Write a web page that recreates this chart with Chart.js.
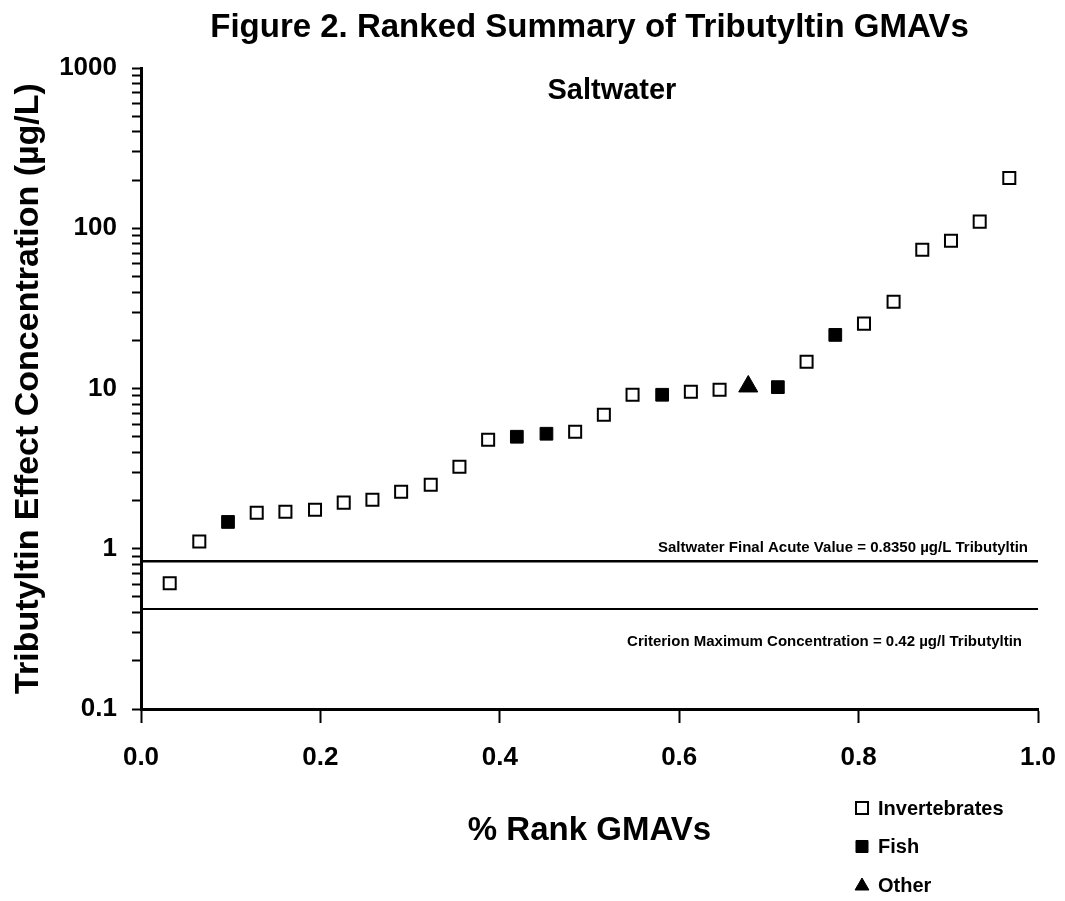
<!DOCTYPE html>
<html>
<head>
<meta charset="utf-8">
<title>Ranked Summary of Tributyltin GMAVs</title>
<script src="https://cdn.jsdelivr.net/npm/chart.js@4.4.1/dist/chart.umd.min.js"></script>
<style>
  html, body { margin: 0; padding: 0; background: #fff; }
  #wrap { width: 1065px; height: 901px; }
</style>
</head>
<body>
<div id="wrap"><canvas id="gmavChart" width="1065" height="901"></canvas></div>
<script>
// percent rank of each genus (i / (N + 1))
const rank = [0.032, 0.065, 0.097, 0.129, 0.161, 0.194, 0.226, 0.258, 0.290, 0.323,
              0.355, 0.387, 0.419, 0.452, 0.484, 0.516, 0.548, 0.581, 0.613, 0.645,
              0.677, 0.710, 0.742, 0.774, 0.806, 0.839, 0.871, 0.903, 0.935, 0.968];
// GMAV, ug/L
const gmav = [0.61, 1.11, 1.47, 1.68, 1.70, 1.75, 1.94, 2.02, 2.27, 2.51,
              3.25, 4.79, 5.0, 5.22, 5.37, 6.86, 9.14, 9.14, 9.55, 9.82,
              10.3, 10.2, 14.7, 21.6, 25.4, 34.8, 73.5, 83.6, 110, 206];
// I = invertebrate, F = fish, O = other
const group = ['I', 'I', 'F', 'I', 'I', 'I', 'I', 'I', 'I', 'I',
               'I', 'I', 'F', 'F', 'I', 'I', 'I', 'F', 'I', 'I',
               'O', 'F', 'I', 'F', 'I', 'I', 'I', 'I', 'I', 'I'];
const groupNames = ['Invertebrates', 'Fish', 'Other'];
const groupCodes = ['I', 'F', 'O'];

const finalAcuteValue = 0.835;
const cmcValue = 0.42;

const yTickValues = [0.1, 1, 10, 100, 1000];
const yTickLabels = ['0.1', '1', '10', '100', '1000'];
const xTickLabels = ['0.0', '0.2', '0.4', '0.6', '0.8', '1.0'];

const FONT = "'Liberation Sans', Arial, Helvetica, sans-serif";

function pointsFor(code) {
  const pts = [];
  for (let i = 0; i < rank.length; i++) {
    if (group[i] === code) pts.push({ x: rank[i], y: gmav[i] });
  }
  return pts;
}

const markerStyles = {
  I: { pointStyle: 'rect', radius: 8.5, bg: '#ffffff', border: '#000000', bw: 2 },
  F: { pointStyle: 'rect', radius: 9, bg: '#000000', border: '#000000', bw: 1 },
  O: { pointStyle: 'triangle', radius: 11, bg: '#000000', border: '#000000', bw: 1 }
};

const datasets = [
  {
    type: 'line',
    label: 'FAV',
    data: [{ x: 0, y: finalAcuteValue }, { x: 1, y: finalAcuteValue }],
    borderColor: '#000',
    borderWidth: 2.5,
    pointRadius: 0,
    order: 5
  },
  {
    type: 'line',
    label: 'CMC',
    data: [{ x: 0, y: cmcValue }, { x: 1, y: cmcValue }],
    borderColor: '#000',
    borderWidth: 2,
    pointRadius: 0,
    order: 5
  }
];
groupCodes.forEach((code, k) => {
  const m = markerStyles[code];
  datasets.push({
    label: groupNames[k],
    data: pointsFor(code),
    pointStyle: m.pointStyle,
    pointRadius: m.radius,
    pointHoverRadius: m.radius,
    pointBackgroundColor: m.bg,
    pointBorderColor: m.border,
    pointBorderWidth: m.bw,
    order: 1
  });
});

// annotation text, subtitle and the legend block under the x axis
const extrasPlugin = {
  id: 'extras',
  afterDraw(chart) {
    const ctx = chart.ctx;
    const area = chart.chartArea;
    const y = chart.scales.y;
    ctx.save();
    ctx.fillStyle = '#000';

    ctx.font = 'bold 29px ' + FONT;
    ctx.textAlign = 'center';
    ctx.textBaseline = 'middle';
    ctx.fillText('Saltwater', area.left + 0.525 * (area.right - area.left), area.top + 23);

    ctx.font = 'bold 15px ' + FONT;
    ctx.textAlign = 'right';
    ctx.fillText('Saltwater Final Acute Value = 0.8350 \u00b5g/L Tributyltin',
      area.right - 10, y.getPixelForValue(finalAcuteValue) - 13);
    ctx.fillText('Criterion Maximum Concentration = 0.42 \u00b5g/l Tributyltin',
      area.right - 16, y.getPixelForValue(cmcValue) + 33);

    // legend
    const legendX = 862, legendTop = 808, legendGap = 38.5;
    groupCodes.forEach((code, k) => {
      const m = markerStyles[code];
      const ly = legendTop + k * legendGap;
      ctx.fillStyle = m.bg;
      ctx.strokeStyle = m.border;
      ctx.lineWidth = m.bw;
      const r = code === 'O' ? 8 : 8.5;
      Chart.helpers.drawPoint(ctx, { pointStyle: m.pointStyle, radius: r, borderWidth: m.bw, rotation: 0 },
        legendX, code === 'O' ? ly + 1 : ly);
      ctx.fillStyle = '#000';
      ctx.font = 'bold 20px ' + FONT;
      ctx.textAlign = 'left';
      ctx.textBaseline = 'middle';
      ctx.fillText(groupNames[k], legendX + 16, ly + 1);
    });
    ctx.restore();
  }
};

new Chart(document.getElementById('gmavChart').getContext('2d'), {
  type: 'scatter',
  data: { datasets: datasets },
  plugins: [extrasPlugin],
  options: {
    responsive: false,
    animation: false,
    devicePixelRatio: 1,
    layout: { padding: { left: 0, right: 27, top: 0, bottom: 0 } },
    plugins: {
      legend: { display: false },
      tooltip: { enabled: false },
      title: {
        display: true,
        fullSize: false,
        text: 'Figure 2. Ranked Summary of Tributyltin GMAVs',
        color: '#000',
        font: { family: FONT, size: 33, weight: 'bold', lineHeight: 1.2 },
        padding: { top: 8, bottom: 20.4 }
      }
    },
    scales: {
      x: {
        type: 'linear',
        min: 0,
        max: 1,
        afterFit: (scale) => {
          scale.height = 192;
          scale.paddingLeft = 0;
          scale.paddingRight = 27;
        },
        afterBuildTicks: (scale) => {
          scale.ticks = xTickLabels.map((t) => ({ value: parseFloat(t) }));
        },
        border: { display: true, color: '#000', width: 3 },
        grid: { drawOnChartArea: false, drawTicks: true, tickLength: 14, tickColor: '#000', tickWidth: 2 },
        ticks: {
          color: '#000',
          padding: 19,
          maxRotation: 0,
          autoSkip: false,
          font: { family: FONT, size: 26, weight: 'bold' },
          callback: (v, i) => xTickLabels[i]
        },
        title: {
          display: true,
          text: '% Rank GMAVs',
          color: '#000',
          font: { family: FONT, size: 33, weight: 'bold', lineHeight: 1.2 },
          padding: { top: 0, bottom: 50 }
        }
      },
      y: {
        type: 'logarithmic',
        min: 0.1,
        max: 1000,
        afterFit: (scale) => { scale.width = 141; },
        afterBuildTicks: (scale) => {
          const vals = [];
          yTickValues.forEach((d, i) => {
            vals.push(d);
            if (i < yTickValues.length - 1) {
              for (let m = 2; m <= 9; m++) vals.push(d * m);
            }
          });
          scale.ticks = vals.map((v) => ({ value: v }));
        },
        border: { display: true, color: '#000', width: 3 },
        grid: { drawOnChartArea: false, drawTicks: true, tickLength: 9, tickColor: '#000', tickWidth: 2 },
        ticks: {
          color: '#000',
          padding: 15,
          autoSkip: false,
          font: { family: FONT, size: 26, weight: 'bold' },
          callback: (v) => {
            const i = yTickValues.indexOf(v);
            return i >= 0 ? yTickLabels[i] : '';
          }
        },
        title: {
          display: true,
          text: 'Tributyltin Effect Concentration (\u00b5g/L)',
          color: '#000',
          font: { family: FONT, size: 34, weight: 'bold', lineHeight: 1.2 },
          padding: { top: 8, bottom: 0 }
        }
      }
    }
  }
});
</script>
</body>
</html>
